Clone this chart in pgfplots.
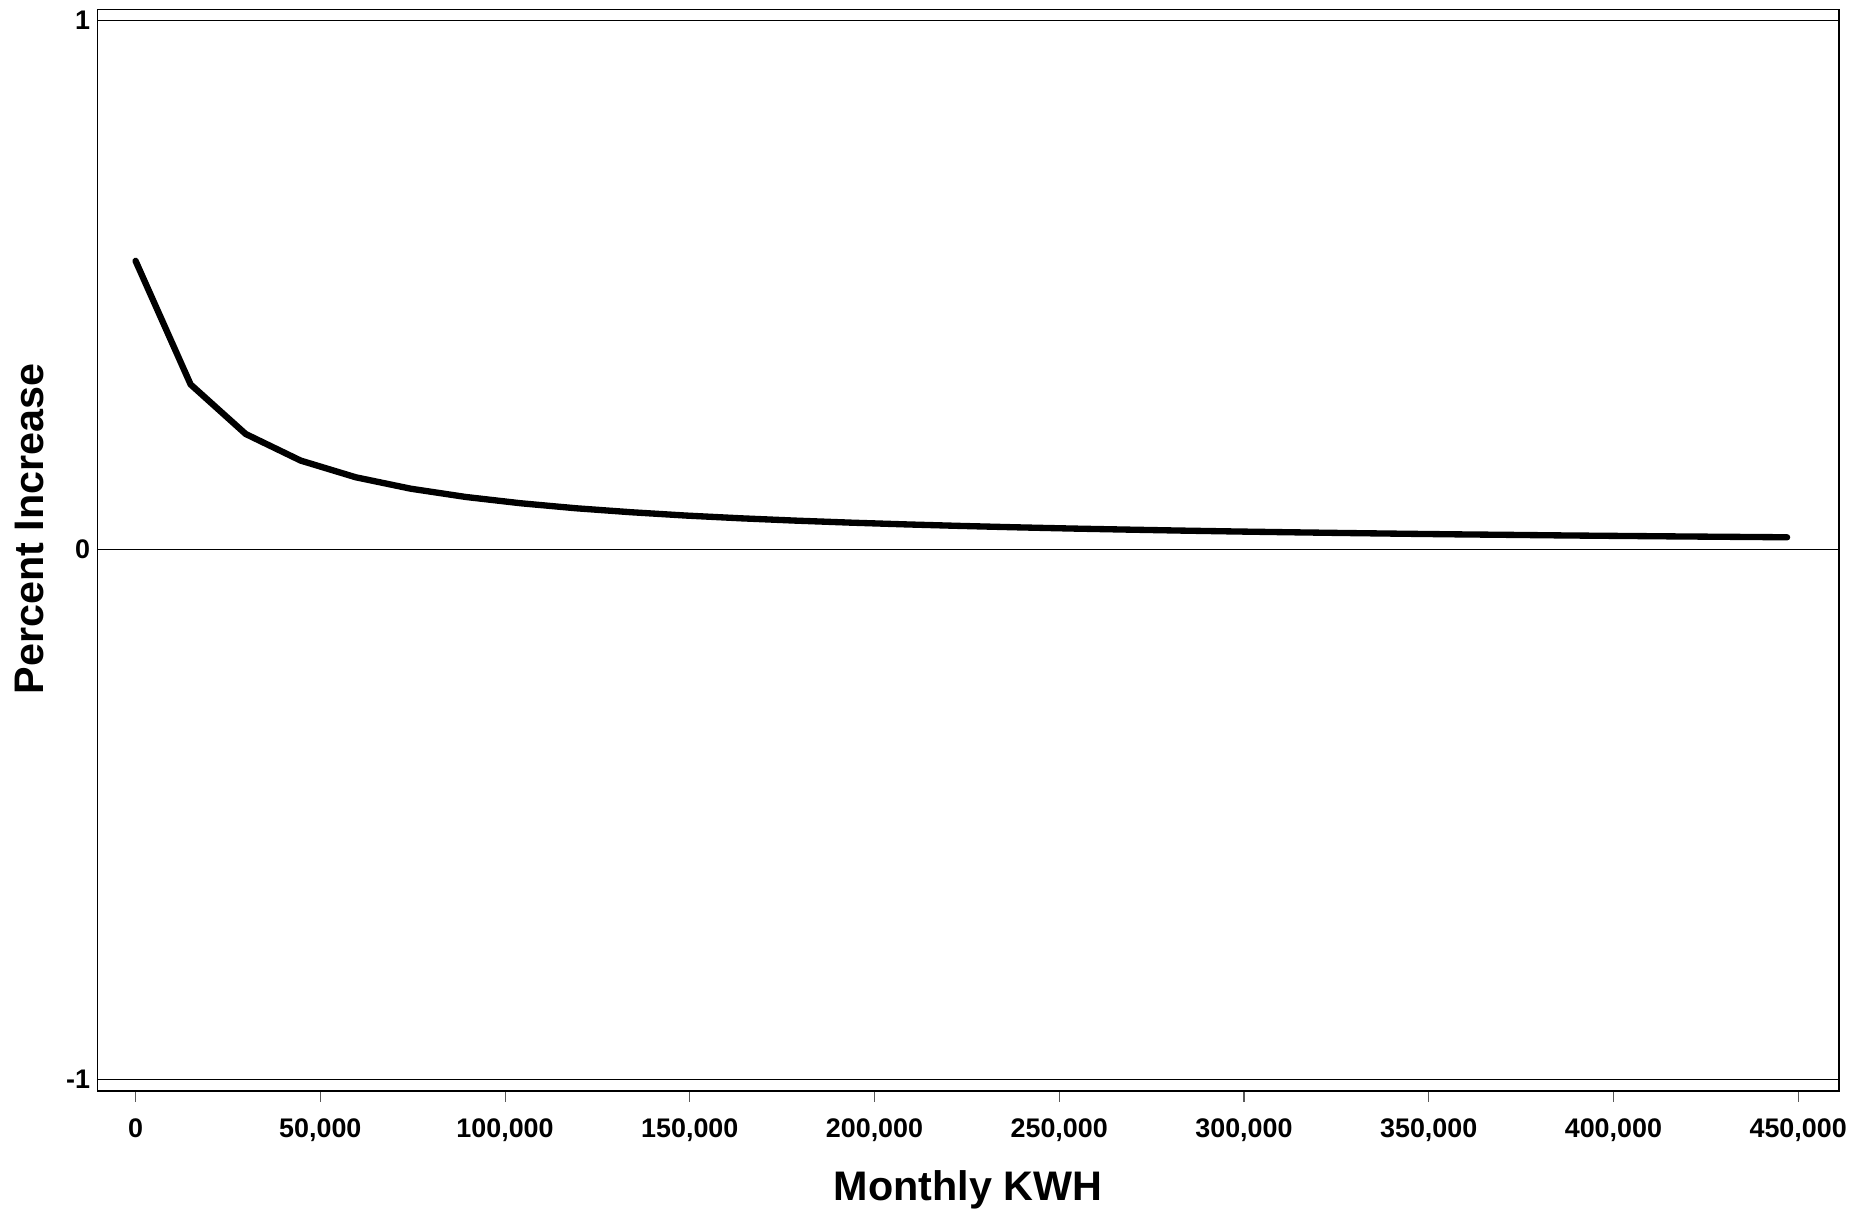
\documentclass[border=0pt]{standalone}
\usepackage{pgfplots}
\pgfplotsset{compat=1.18}
\usepackage{fontspec}
\setmainfont{Liberation Sans}
\begin{document}
\begin{tikzpicture}
\begin{axis}[
  at={(0,0)}, anchor=south west,
  scale only axis,
  width=34.82cm, height=21.62cm,
  xmin=-10300, xmax=461000,
  ymin=-1.022, ymax=1.02,
  scaled ticks=false,
  axis line style={line width=1pt, black},
  xtick={0,50000,100000,150000,200000,250000,300000,350000,400000,450000},
  xticklabels={0,{50,000},{100,000},{150,000},{200,000},{250,000},{300,000},{350,000},{400,000},{450,000}},
  ytick={-1,0,1},
  yticklabels={-1,0,1},
  tick align=outside,
  major tick length=0.22cm,
  xtick style={draw=gray!70!black, line width=0.6pt},
  ytick style={draw=none},
  xtick pos=bottom, ytick pos=left,
  ymajorgrids,
  grid style={black, line width=0.55pt},
  ticklabel style={font=\fontsize{15.3}{18}\selectfont\bfseries},
  xticklabel style={yshift=-0.22cm},
  yticklabel style={xshift=0.195cm},
  xlabel={Monthly KWH},
  ylabel={Percent Increase},
  label style={font=\fontsize{23.5}{28}\selectfont\bfseries},
  xlabel style={at={(axis description cs:0.5,-0.1013)}, anchor=base},
  ylabel style={at={(axis description cs:-0.0388,0.5196)}, anchor=center},
]
\addplot[black, line width=3.6pt, line join=round, line cap=round] coordinates {
(0,0.5452) (14900,0.3118) (29800,0.2183) (44700,0.1680) (59600,0.1365)
(74500,0.1149) (89400,0.0993) (104300,0.0874) (119200,0.0780) (134100,0.0705)
(149000,0.0642) (163900,0.0590) (178800,0.0546) (193700,0.0508) (208600,0.0475)
(223500,0.0446) (238400,0.0420) (253300,0.0397) (268200,0.0377) (283100,0.0358)
(298000,0.0341) (312900,0.0326) (327800,0.0312) (342700,0.0299) (357600,0.0287)
(372500,0.0277) (387400,0.0266) (402300,0.0257) (417200,0.0248) (432100,0.0240)
(447000,0.0232)
};
\end{axis}
\pgfresetboundingbox
\path[use as bounding box] (-1.95,-2.406) rectangle (35.344,21.81);
\end{tikzpicture}
\end{document}
